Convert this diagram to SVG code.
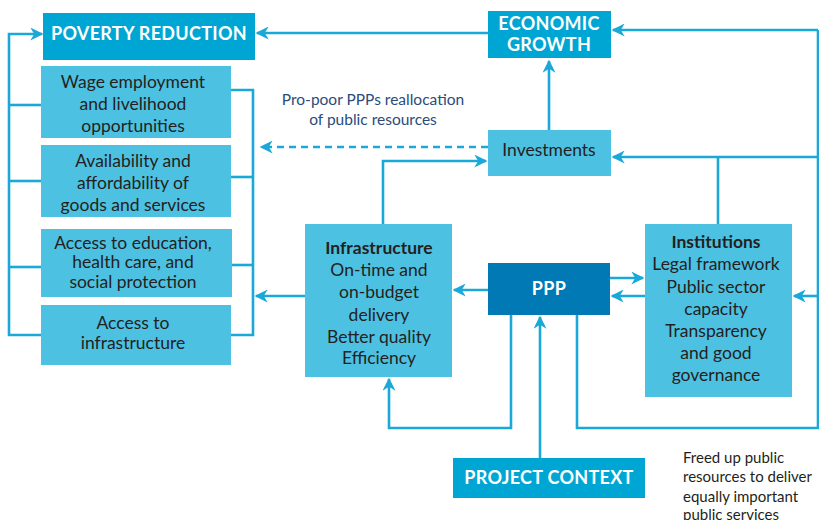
<svg xmlns="http://www.w3.org/2000/svg" width="819" height="520" viewBox="0 0 819 520">
<defs>
<marker id="ah" viewBox="0 0 10 10" refX="9" refY="5" markerWidth="5" markerHeight="5" orient="auto" markerUnits="strokeWidth"><path d="M0,0 L10,5 L0,10 L3,5 Z" fill="#1AA8D8"/></marker>
<style>
.dk{fill:#00A6D3}
.lt{fill:#4DC1E2}
.pp{fill:#0079B4}
.ln{fill:none;stroke:#1AA8D8;stroke-width:2.6}
.ar{marker-end:url(#ah)}
.hd{font-family:Lato,"Open Sans",sans-serif;font-size:18px;font-weight:bold;fill:#fff;text-anchor:middle;letter-spacing:0.3px}
.tx{font-family:Lato,"Open Sans",sans-serif;font-size:17.5px;fill:#231F20;text-anchor:middle}
.bd{font-weight:bold}
.lb{font-family:Lato,"Open Sans",sans-serif;font-size:15.5px;fill:#2B4B7A;text-anchor:middle}
.nt{font-family:Lato,"Open Sans",sans-serif;font-size:15px;fill:#231F20}
</style>
</defs>
<g id="connectors">
<polyline class="ln ar" points="41,335 9,335 9,34 42,34"/>
<line class="ln" x1="9" y1="105" x2="41" y2="105"/>
<line class="ln" x1="9" y1="181" x2="41" y2="181"/>
<line class="ln" x1="9" y1="267" x2="41" y2="267"/>
<polyline class="ln" points="231,90 253,90 253,335 231,335"/>
<line class="ln" x1="231" y1="177" x2="253" y2="177"/>
<line class="ln" x1="231" y1="265" x2="253" y2="265"/>
<line class="ln ar" x1="305" y1="296" x2="256" y2="296"/>
<line class="ln ar" x1="488" y1="33" x2="257" y2="33"/>
<line class="ln ar" x1="549" y1="130" x2="549" y2="61"/>
<line class="ln ar" x1="488" y1="147" x2="261" y2="147" stroke-dasharray="7,5"/>
<polyline class="ln ar" points="383,224 383,161 486,161"/>
<line class="ln ar" x1="488" y1="290" x2="454" y2="290"/>
<line class="ln ar" x1="610" y1="278" x2="643" y2="278"/>
<line class="ln ar" x1="645" y1="296" x2="612" y2="296"/>
<polyline class="ln ar" points="511,315 511,428 389,428 389,379"/>
<line class="ln ar" x1="540" y1="458" x2="540" y2="317"/>
<polyline class="ln" points="577,315 577,428 818,428 818,30"/>
<line class="ln ar" x1="818" y1="30" x2="613" y2="30"/>
<line class="ln ar" x1="818" y1="157" x2="613" y2="157"/>
<line class="ln" x1="718" y1="157" x2="718" y2="224"/>
<line class="ln ar" x1="818" y1="296" x2="794" y2="296"/>
</g>
<g id="poverty-reduction"><rect class="dk" x="43" y="13" width="212" height="47"/><text class="hd" x="149" y="39.5">POVERTY REDUCTION</text></g>
<g id="wage"><rect class="lt" x="41" y="66" width="190" height="72"/><text class="tx"><tspan x="133" y="88">Wage employment</tspan><tspan x="133" y="110">and livelihood</tspan><tspan x="133" y="132">opportunities</tspan></text></g>
<g id="availability"><rect class="lt" x="41" y="145" width="190" height="72"/><text class="tx"><tspan x="133" y="167">Availability and</tspan><tspan x="133" y="189">affordability of</tspan><tspan x="133" y="211">goods and services</tspan></text></g>
<g id="education"><rect class="lt" x="41" y="229" width="191" height="68"/><text class="tx"><tspan x="133" y="249">Access to education,</tspan><tspan x="133" y="268">health care, and</tspan><tspan x="133" y="288">social protection</tspan></text></g>
<g id="access-infra"><rect class="lt" x="41" y="305" width="190" height="60"/><text class="tx"><tspan x="133" y="329">Access to</tspan><tspan x="133" y="349">infrastructure</tspan></text></g>
<g id="label-propoor"><text class="lb"><tspan x="373" y="105">Pro-poor PPPs reallocation</tspan><tspan x="373" y="125">of public resources</tspan></text></g>
<g id="economic-growth"><rect class="dk" x="488" y="11" width="123" height="47"/><text class="hd"><tspan x="549" y="29.5">ECONOMIC</tspan><tspan x="549" y="50.5">GROWTH</tspan></text></g>
<g id="investments"><rect class="lt" x="488" y="130" width="123" height="46"/><text class="tx" x="549" y="156">Investments</text></g>
<g id="infrastructure"><rect class="lt" x="305" y="224" width="147" height="153"/><text class="tx"><tspan class="bd" x="379" y="254">Infrastructure</tspan><tspan x="379" y="276">On-time and</tspan><tspan x="379" y="298">on-budget</tspan><tspan x="379" y="321">delivery</tspan><tspan x="379" y="343">Better quality</tspan><tspan x="379" y="364">Efficiency</tspan></text></g>
<g id="ppp"><rect class="pp" x="488" y="263" width="122" height="52"/><text class="hd" x="549" y="295">PPP</text></g>
<g id="institutions"><rect class="lt" x="645" y="224" width="147" height="173"/><text class="tx"><tspan class="bd" x="716" y="248">Institutions</tspan><tspan x="716" y="270">Legal framework</tspan><tspan x="716" y="293">Public sector</tspan><tspan x="716" y="315">capacity</tspan><tspan x="716" y="337">Transparency</tspan><tspan x="716" y="359">and good</tspan><tspan x="716" y="381">governance</tspan></text></g>
<g id="project-context"><rect class="dk" x="453" y="458" width="192" height="40"/><text class="hd" x="549" y="484">PROJECT CONTEXT</text></g>
<g id="note-freed"><text class="nt"><tspan x="683" y="463">Freed up public</tspan><tspan x="683" y="482">resources to deliver</tspan><tspan x="683" y="502">equally important</tspan><tspan x="683" y="520">public services</tspan></text></g>
</svg>
